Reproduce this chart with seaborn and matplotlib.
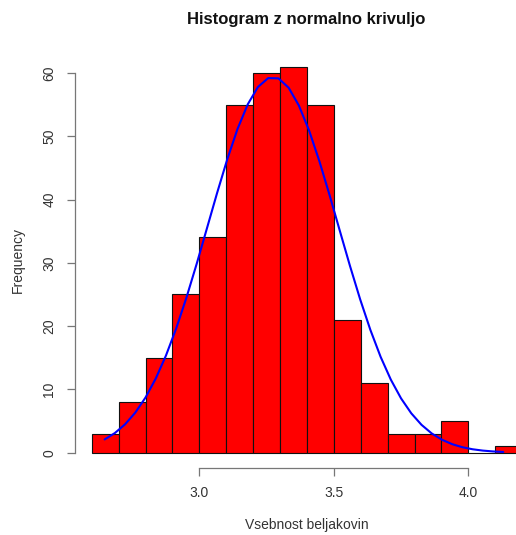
import numpy as np
import pandas as pd
import matplotlib
matplotlib.use("Agg")
import matplotlib.pyplot as plt
import seaborn as sns

# Histogram bins (width 0.1) and counts
bin_edges = [2.6, 2.7, 2.8, 2.9, 3.0, 3.1, 3.2, 3.3, 3.4, 3.5, 3.6, 3.7, 3.8, 3.9, 4.0, 4.1, 4.2]
counts = [3, 8, 15, 25, 34, 55, 60, 61, 55, 21, 11, 3, 3, 5, 0, 1]

# Fitted normal curve parameters
mu = 3.274
sigma = 0.242
curve_from, curve_to = 2.648, 4.13
x_ticks = [3.0, 3.5, 4.0]
y_ticks = [0, 10, 20, 30, 40, 50, 60]

sns.set_style("white")
plt.rcParams["font.family"] = ["Liberation Sans", "DejaVu Sans"]

fig = plt.figure(figsize=(5.16, 5.35), dpi=100)
ax = fig.add_axes([0.1444, 0.125, 0.9008, 0.7794])

edges = np.array(bin_edges)
centers = (edges[:-1] + edges[1:]) / 2
df = pd.DataFrame({"x": centers, "n": counts})
sns.histplot(data=df, x="x", weights="n", bins=list(bin_edges), ax=ax,
             color="#ff0000", alpha=1.0, edgecolor="#111111", linewidth=0.8)

# Normal density scaled to frequencies
n_total = sum(counts)
width = edges[1] - edges[0]
xs = np.linspace(curve_from, curve_to, 40)
ys = n_total * width * np.exp(-0.5 * ((xs - mu) / sigma) ** 2) / (sigma * np.sqrt(2 * np.pi))
sns.lineplot(x=xs, y=ys, ax=ax, color="#0000ff", linewidth=1.5)

ax.set_xlim(2.536, 4.264)
ax.set_ylim(-2.44, 63.44)

for s in ["top", "right"]:
    ax.spines[s].set_visible(False)
ax.spines["left"].set_bounds(0, 60)
ax.spines["bottom"].set_bounds(3.0, 4.0)
for s in ["left", "bottom"]:
    ax.spines[s].set_color("#777777")
    ax.spines[s].set_linewidth(0.9)

ax.set_xticks(x_ticks)
ax.set_xticklabels([f"{v:.1f}" for v in x_ticks])
ax.set_yticks(y_ticks)
ax.set_yticklabels([str(v) for v in y_ticks], rotation=90, va="center")
ax.tick_params(axis="both", direction="out", length=6, width=0.9, color="#777777",
               labelsize=10, labelcolor="#333333", pad=7, bottom=True, left=True)

ax.set_xlabel("Vsebnost beljakovin", fontsize=10, color="#333333", va="center", ha="center")
ax.xaxis.set_label_coords(0.5, -0.137)
ax.set_ylabel("Frequency", fontsize=10, color="#333333", va="center", ha="center")
ax.yaxis.set_label_coords(-0.122, 0.5)
fig.text(0.594, 0.963, "Histogram z normalno krivuljo", ha="center", va="center",
         fontsize=12, fontweight="bold", color="#111111")

fig.savefig("out.png", dpi=100)
